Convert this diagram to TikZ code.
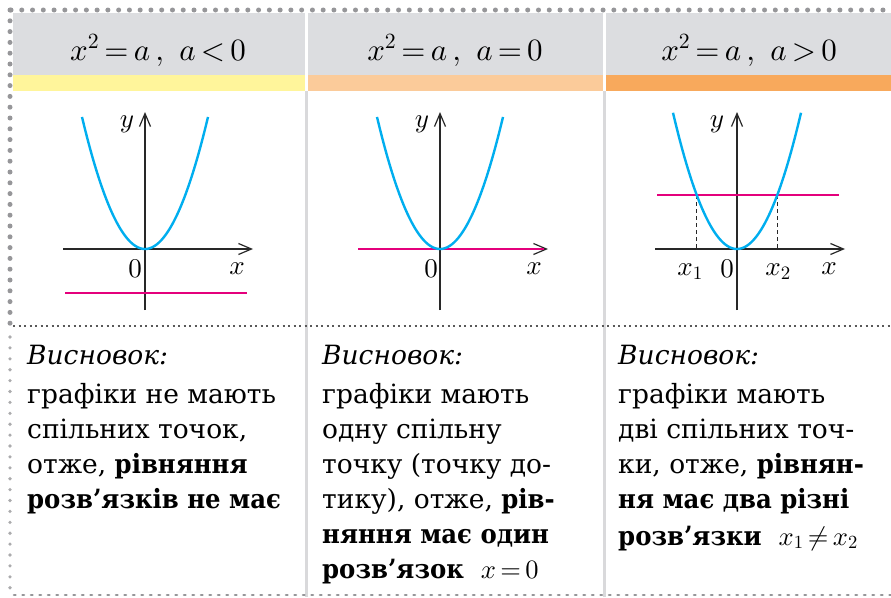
\documentclass[tikz,border=0pt]{standalone}
\usepackage[no-math]{fontspec}
\setmainfont{DejaVu Serif}[BoldFeatures={FakeStretch=0.92}]
\DeclareFontShape{OML}{cmm}{m}{it}{<->cmmi10}{}
\DeclareFontShape{OT1}{cmr}{m}{n}{<->cmr10}{}
\DeclareFontShape{OMS}{cmsy}{m}{n}{<->cmsy10}{}
\DeclareFontShape{OMX}{cmex}{m}{n}{<->cmex10}{}
\usetikzlibrary{arrows.meta}
\definecolor{hdrgray}{RGB}{220,221,224}
\definecolor{yband}{RGB}{255,245,155}
\definecolor{lband}{RGB}{251,203,154}
\definecolor{oband}{RGB}{248,169,92}
\definecolor{parab}{RGB}{0,174,239}
\definecolor{magline}{RGB}{228,0,124}
\definecolor{dotgray}{RGB}{150,150,153}
\definecolor{sepgray}{RGB}{217,217,219}
\definecolor{axisc}{RGB}{40,40,40}
\newcommand{\hdrmath}[1]{$\thickmuskip=3mu\relax #1$}
\tikzset{
  axisline/.style={axisc, line width=1.2pt},
  axisarrow/.style={axisline, -{Straight Barb[length=13pt,width=11pt,line width=1.2pt]}},
  parabola/.style={parab, line width=2.4pt},
  hline/.style={magline, line width=2.4pt},
  glabel/.style={inner sep=0pt, font=\fontsize{27}{29}\selectfont},
  hdr/.style={inner sep=0pt, anchor=base, font=\fontsize{31}{34}\selectfont},
  txt/.style={inner sep=0pt, anchor=base west, font=\fontsize{26.5}{30}\selectfont},
}
\begin{document}
\begin{tikzpicture}[x=1pt,y=-1pt]
\useasboundingbox (0,0) rectangle (891,597);
\fill[white] (0,0) rectangle (891,597);
% header bands
\fill[hdrgray] (13,13) rectangle (891,75);
\fill[yband] (13,75) rectangle (891,91);
\fill[lband] (308,75) rectangle (891,91);
\fill[oband] (606,75) rectangle (891,91);
\fill[white] (305,13) rectangle (308,91);
\fill[white] (603,13) rectangle (606,91);
% column separators
\fill[sepgray] (305,91) rectangle (308,597);
\fill[sepgray] (603,91) rectangle (606,597);
% dotted borders
\draw[dotgray, line width=5pt, line cap=round, dash pattern=on 0pt off 10.765pt] (11,10) -- (891,10);
\draw[dotgray, line width=5pt, line cap=round, dash pattern=on 0pt off 10.8pt] (10,10) -- (10,330);
\draw[dotgray!80, line width=3.6pt, line cap=round, dash pattern=on 0pt off 10.9pt] (10,337) -- (10,597);
\draw[black!65, line width=2pt, dash pattern=on 2pt off 3.5pt] (13,326) -- (891,326);
\draw[dotgray, line width=2.6pt, line cap=round, dash pattern=on 1.5pt off 7pt] (14,595) -- (891,595);
% headers
\node[hdr] (h1) at (158,60) {\hdrmath{x^{2}=a\,,\;\; a<0}};
\node[hdr] (h2) at (455,60) {\hdrmath{x^{2}=a\,,\;\; a=0}};
\node[hdr] (h3) at (749,60) {\hdrmath{x^{2}=a\,,\;\; a>0}};
% graph 1
\begin{scope}[shift={(145,249)}]
  \coordinate (g1xl) at (-82,0); \coordinate (g1xr) at (108,0);
  \coordinate (g1yb) at (0,61); \coordinate (g1yt) at (0,-137);
  \draw[axisarrow] (g1xl) -- (g1xr);
  \draw[axisarrow] (g1yb) -- (g1yt);
  \draw[hline] (-80,44) -- (102,44);
  \draw[parabola] plot[domain=-63:63, samples=80] ({\x},{-0.03326*\x*\x});
  \node[glabel] (g1y) at (-18,-125) {$y$};
  \node[glabel] (g1o) at (-10,20) {$0$};
  \node[glabel] (g1x) at (92,20) {$x$};
\end{scope}
% graph 2
\begin{scope}[shift={(440,249)}]
  \coordinate (g2xl) at (-82,0); \coordinate (g2xr) at (108,0);
  \coordinate (g2yb) at (0,61); \coordinate (g2yt) at (0,-137);
  \draw[axisarrow] (g2xl) -- (g2xr);
  \draw[axisarrow] (g2yb) -- (g2yt);
  \draw[hline] (-82,0) -- (104,0);
  \draw[parabola] plot[domain=-63:63, samples=80] ({\x},{-0.03326*\x*\x});
  \node[glabel] (g2y) at (-18,-125) {$y$};
  \node[glabel] (g2o) at (-9,20) {$0$};
  \node[glabel] (g2x) at (94,20) {$x$};
\end{scope}
% graph 3
\begin{scope}[shift={(737,249)}]
  \coordinate (g3xl) at (-82,0); \coordinate (g3xr) at (108,0);
  \coordinate (g3yb) at (0,61); \coordinate (g3yt) at (0,-137);
  \coordinate (p1) at (-40.3,-54); \coordinate (p2) at (40.3,-54);
  \coordinate (q1) at (-40.3,0); \coordinate (q2) at (40.3,0);
  \draw[axisarrow] (g3xl) -- (g3xr);
  \draw[axisarrow] (g3yb) -- (g3yt);
  \draw[axisc, line width=1pt, dash pattern=on 4pt off 3pt] (p1) -- (q1);
  \draw[axisc, line width=1pt, dash pattern=on 4pt off 3pt] (p2) -- (q2);
  \draw[hline] (-80,-54) -- (102,-54);
  \draw[parabola] plot[domain=-64:64, samples=80] ({\x},{-0.03326*\x*\x});
  \node[glabel] (g3y) at (-20,-125) {$y$};
  \node[glabel] (g3o) at (-10,20) {$0$};
  \node[glabel] (g3x) at (92,20) {$x$};
  \node[glabel] (g3x1) at (-47,23) {$x_1$};
  \node[glabel] (g3x2) at (41,23) {$x_2$};
\end{scope}
% column 1 text
\node[txt] (a0) at (27,364) {\itshape Висновок:};
\node[txt] (a1) at (27,403) {графіки не мають};
\node[txt] (a2) at (27,438) {спільних точок,};
\node[txt] (a3) at (27,473) {отже, \textbf{рівняння}};
\node[txt] (a4) at (27,508) {\textbf{розв’язків не має}};
% column 2 text
\node[txt] (b0) at (322,364) {\itshape Висновок:};
\node[txt] (b1) at (322,403) {графіки мають};
\node[txt] (b2) at (322,438) {одну спільну};
\node[txt] (b3) at (322,473) {точку (точку до-};
\node[txt] (b4) at (322,508) {тику), отже, \textbf{рів-}};
\node[txt] (b5) at (322,543) {\textbf{няння має один}};
\node[txt] (b6) at (322,578) {\textbf{розв’язок}\ \ \hdrmath{x=0}};
% column 3 text
\node[txt] (c0) at (618,364) {\itshape Висновок:};
\node[txt] (c1) at (618,403) {графіки мають};
\node[txt] (c2) at (618,438) {дві спільних точ-};
\node[txt] (c3) at (618,473) {ки, отже, \textbf{рівнян-}};
\node[txt] (c4) at (618,508) {\textbf{ня має два різні}};
\node[txt] (c5) at (618,545) {\textbf{розв’язки}\ \ \hdrmath{x_1\ne x_2}};
\end{tikzpicture}
\end{document}
